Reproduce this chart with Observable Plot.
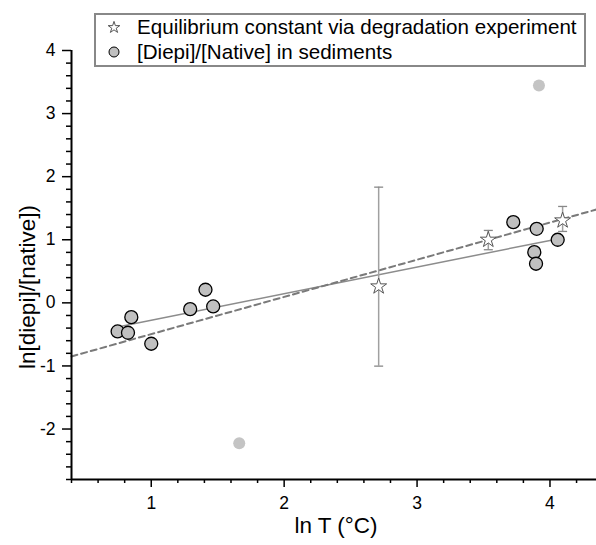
<!DOCTYPE html>
<html>
<head>
<meta charset="utf-8">
<script src="https://cdn.jsdelivr.net/npm/d3@7"></script>
<script src="https://cdn.jsdelivr.net/npm/@observablehq/plot@0.6"></script>
<style>
  body { margin: 0; background: #fff; font-family: "Liberation Sans", Arial, sans-serif; }
  #wrap { position: relative; width: 596px; height: 545px; overflow: hidden; }
  #legend { position: absolute; left: 94px; top: 13px; width: 492px; height: 54px;
            border: 2px solid #888; box-sizing: border-box; background: #fff; font-size: 20.6px; color: #000; }
  #legend .row { position: absolute; left: 0; height: 24px; white-space: nowrap; }
  #legend svg { position: absolute; left: 7px; top: 0; }
  #legend span { position: absolute; left: 41px; top: 0; line-height: 24px; }
</style>
</head>
<body>
<div id="wrap"></div>
<script>
// ---- data ----
const xDomain = [0.4, 4.35];
const yDomain = [-2.8, 4];
const xMajor = [1, 2, 3, 4];
const xTickLabels = ["1", "2", "3", "4"];
const yMajor = [-2, -1, 0, 1, 2, 3, 4];
const yTickLabels = ["-2", "-1", "0", "1", "2", "3", "4"];
const xTitle = "ln T (°C)";
const yTitle = "ln[diepi]/[native])";
const legendLabels = ["Equilibrium constant via degradation experiment", "[Diepi]/[Native] in sediments"];

// sediment ratios (circles)
const sedX = [0.747, 0.825, 0.850, 1.000, 1.293, 1.408, 1.466, 3.724, 3.900, 4.058, 3.882, 3.895];
const sedY = [-0.453, -0.474, -0.227, -0.648, -0.100, 0.208, -0.057, 1.279, 1.174, 1.000, 0.804, 0.620];
// excluded sediment points (faint)
const outX = [1.662, 3.917];
const outY = [-2.224, 3.446];
// equilibrium constants (stars) with error bars
const expX = [2.711, 3.536, 4.095];
const expY = [0.260, 1.000, 1.306];
const expLo = [-1.003, 0.842, 1.132];
const expHi = [1.834, 1.148, 1.528];
// fitted lines
const sedFit = { slope: 0.4218, intercept: -0.698 };
const expFit = { slope: 0.5896, intercept: -1.085 };

// ---- build tables ----
const sed = sedX.map((x, i) => ({ x, y: sedY[i] }));
const out = outX.map((x, i) => ({ x, y: outY[i] }));
const exp = expX.map((x, i) => ({ x, y: expY[i], lo: expLo[i], hi: expHi[i] }));
const sedExt = d3.extent(sedX);
const sedLine = sedExt.map(x => ({ x, y: sedFit.intercept + sedFit.slope * x }));
const expLine = xDomain.map(x => ({ x, y: expFit.intercept + expFit.slope * x }));
const xMinor = d3.range(0, 20).map(i => +(0.4 + 0.2 * i).toFixed(2)).filter(v => v <= xDomain[1] + 1e-9 && !xMajor.includes(v));
const yMinor = d3.range(0, 36).map(i => +(yDomain[0] + 0.2 * i).toFixed(2)).filter(v => v <= yDomain[1] + 1e-9 && !yMajor.includes(v));

const capSymbol = { draw(ctx, size) { const w = 4.5; ctx.moveTo(-w, 0); ctx.lineTo(w, 0); } };

const font = "Liberation Sans, Arial, sans-serif";

const chart = Plot.plot({
  width: 596, height: 545,
  marginTop: 50, marginBottom: 66, marginLeft: 71, marginRight: 0,
  x: { domain: xDomain },
  y: { domain: yDomain },
  style: { fontFamily: font, color: "#000", background: "#fff", overflow: "visible" },
  marks: [
    Plot.line(sedLine, { x: "x", y: "y", stroke: "#8c8c8c", strokeWidth: 1.5 }),
    Plot.line(expLine, { x: "x", y: "y", stroke: "#7a7a7a", strokeWidth: 2, strokeDasharray: "6,4" }),
    Plot.ruleX(exp, { x: "x", y1: "lo", y2: "hi", stroke: "#a0a0a0", strokeWidth: 1.5 }),
    Plot.dot(exp, { x: "x", y: "lo", symbol: capSymbol, stroke: "#888", strokeWidth: 1.3, fill: "none", r: 4 }),
    Plot.dot(exp, { x: "x", y: "hi", symbol: capSymbol, stroke: "#888", strokeWidth: 1.3, fill: "none", r: 4 }),
    Plot.dot(exp, { x: "x", y: "y", symbol: "star", r: 5, fill: "#fff", stroke: "#555", strokeWidth: 1 }),
    Plot.dot(out, { x: "x", y: "y", r: 6, fill: "#c4c4c4", stroke: "none" }),
    Plot.dot(sed, { x: "x", y: "y", r: 6.5, fill: "#c0c0c0", stroke: "#000", strokeWidth: 1.3 }),
    // axes: minor ticks (no labels) and major ticks
    Plot.axisY(yMinor, { tickSize: 5, tickFormat: () => "", label: null, stroke: "#000", strokeWidth: 1.5 }),
    Plot.axisY(yMajor, { tickSize: 9, tickPadding: 7, fontSize: 17.5, label: null, stroke: "#000", strokeWidth: 1.5,
                         tickFormat: d => yTickLabels[yMajor.indexOf(d)] }),
    Plot.axisX(xMinor, { tickSize: 4, tickFormat: () => "", label: null, stroke: "#000", strokeWidth: 1.5 }),
    Plot.axisX(xMajor, { tickSize: 8, tickPadding: 9, fontSize: 17.5, label: null, stroke: "#000", strokeWidth: 1.5,
                         tickFormat: d => xTickLabels[xMajor.indexOf(d)] }),
    Plot.ruleX([xDomain[0]], { stroke: "#000", strokeWidth: 2 }),
    Plot.ruleY([yDomain[0]], { stroke: "#000", strokeWidth: 2 }),
    Plot.text([yTitle], { frameAnchor: "left", textAnchor: "middle", rotate: -90, dx: -44, dy: 22, fontSize: 22.5, fill: "#000" }),
    Plot.text([xTitle], { frameAnchor: "bottom", textAnchor: "middle", dx: 2, dy: 53, fontSize: 22.5, fill: "#000" })
  ]
});

const wrap = document.getElementById("wrap");
wrap.appendChild(chart);

// legend overlay
const legend = document.createElement("div");
legend.id = "legend";
const starPath = d3.symbol(d3.symbolStar, 42)();
const rows = [
  { top: 0, sym: `<path d="${starPath}" transform="translate(11,12.5)" fill="#fff" stroke="#555" stroke-width="1"/>`, text: legendLabels[0] },
  { top: 25, sym: `<circle cx="11" cy="12" r="5" fill="#c0c0c0" stroke="#000" stroke-width="1"/>`, text: legendLabels[1] }
];
rows.forEach(r => {
  const row = document.createElement("div");
  row.className = "row";
  row.style.top = r.top + "px";
  row.innerHTML = `<svg width="22" height="24">${r.sym}</svg><span></span>`;
  row.querySelector("span").textContent = r.text;
  legend.appendChild(row);
});
wrap.appendChild(legend);
</script>
</body>
</html>
